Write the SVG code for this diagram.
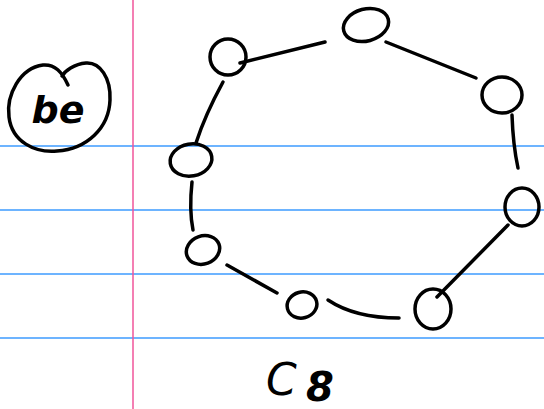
<svg xmlns="http://www.w3.org/2000/svg" width="544" height="409" viewBox="0 0 544 409">
<style>
.rule{stroke:#3d9bff;stroke-width:1.5}
.margin{stroke:#f0559a;stroke-width:1.5}
.ink{fill:none;stroke:#000;stroke-width:3.5;stroke-linecap:round;stroke-linejoin:round}
.hand{font-family:"DejaVu Sans",sans-serif;font-style:italic;fill:#000}
</style>
<rect width="544" height="409" fill="#fff"/>
<g id="paper">
<line class="rule" x1="0" y1="146" x2="544" y2="146"/>
<line class="rule" x1="0" y1="210" x2="544" y2="210"/>
<line class="rule" x1="0" y1="274" x2="544" y2="274"/>
<line class="rule" x1="0" y1="338" x2="544" y2="338"/>
<line class="margin" x1="133" y1="0" x2="133" y2="409"/>
</g>
<g id="label-be">
<path class="ink" d="M68,85 C62,72 55,64 43,65 C20,68 6,95 9,117 C12,142 35,153 57,151 C87,149 109,128 110,100 C111,78 100,62 86,63 C74,64 65,71 62,76"/>
<text class="hand" x="58" y="123" font-size="38" font-weight="bold" text-anchor="middle">be</text>
</g>
<g id="connectors">
<path class="ink" d="M325,42 L240,63"/>
<path class="ink" d="M386,42 L476,78"/>
<path class="ink" d="M223,82 Q205,115 196,143"/>
<path class="ink" d="M512,115 Q513,145 518,168"/>
<path class="ink" d="M192,182 Q189,210 193,230"/>
<path class="ink" d="M508,225 L437,297"/>
<path class="ink" d="M227,265 L277,293"/>
<path class="ink" d="M328,300 Q355,318 399,318"/>
</g>
<g id="node1"><ellipse class="ink" cx="366" cy="25" rx="23" ry="16" transform="rotate(-15 366 25)"/></g>
<g id="node2"><ellipse class="ink" cx="228" cy="57" rx="18" ry="18"/></g>
<g id="node3"><ellipse class="ink" cx="502" cy="95" rx="20" ry="18"/></g>
<g id="node4"><ellipse class="ink" cx="191" cy="160" rx="21" ry="16" transform="rotate(-10 191 160)"/></g>
<g id="node5"><ellipse class="ink" cx="522" cy="207" rx="17" ry="19"/></g>
<g id="node6"><ellipse class="ink" cx="203" cy="250" rx="17" ry="14" transform="rotate(-20 203 250)"/></g>
<g id="node7"><ellipse class="ink" cx="302" cy="305" rx="15" ry="13" transform="rotate(-15 302 305)"/></g>
<g id="node8"><ellipse class="ink" cx="433" cy="309" rx="18" ry="20"/></g>
<g id="label-c8">
<text class="hand" x="266" y="395" font-size="44">C</text>
<text class="hand" x="306" y="401" font-size="40" font-weight="bold">8</text>
</g>
</svg>
